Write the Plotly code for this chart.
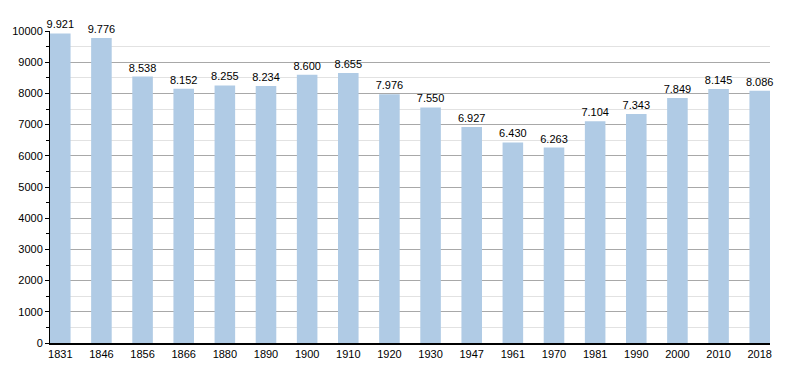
import plotly.graph_objects as go

years = ["1831", "1846", "1856", "1866", "1880", "1890", "1900", "1910", "1920",
         "1930", "1947", "1961", "1970", "1981", "1990", "2000", "2010", "2018"]
population = [9921, 9776, 8538, 8152, 8255, 8234, 8600, 8655, 7976,
              7550, 6927, 6430, 6263, 7104, 7343, 7849, 8145, 8086]
y_ticks = [0, 1000, 2000, 3000, 4000, 5000, 6000, 7000, 8000, 9000, 10000]

labels = [f"{v:,}".replace(",", ".") for v in population]
xs = list(range(len(years)))

fig = go.Figure()
fig.add_trace(go.Bar(
    x=xs, y=population, width=0.5,
    marker=dict(color="#b0cbe5", line=dict(width=0)),
    text=labels, textposition="outside", cliponaxis=False,
    constraintext="none",
    textfont=dict(size=11, color="#000000", family="Liberation Sans, Arial, sans-serif"),
))

fig.update_layout(
    width=800, height=373,
    margin=dict(l=50, r=30, t=31, b=30, autoexpand=False),
    plot_bgcolor="white", paper_bgcolor="white",
    showlegend=False,
    font=dict(family="Liberation Sans, Arial, sans-serif", size=11, color="#000000"),
    xaxis=dict(
        tickmode="array", tickvals=xs, ticktext=years,
        range=[-0.25, len(years) - 0.75],
        showgrid=False, showline=True, linecolor="black", linewidth=2,
        ticks="", zeroline=False, automargin=False,
        tickfont=dict(size=11),
    ),
    yaxis=dict(
        range=[0, 10000],
        tickmode="array", tickvals=y_ticks, ticktext=[str(t) for t in y_ticks],
        showgrid=True, gridcolor="#a8a8a8", gridwidth=1,
        showline=True, linecolor="black", linewidth=1,
        ticks="outside", ticklen=4, tickcolor="black",
        zeroline=False, automargin=False,
        minor=dict(dtick=500, showgrid=True, gridcolor="#e2e2e2", ticks="outside",
                   ticklen=3, tickcolor="black"),
        tickfont=dict(size=11),
    ),
)

fig.write_html("out.html", config={"displayModeBar": False},
               post_script="document.body.style.margin='0';")
